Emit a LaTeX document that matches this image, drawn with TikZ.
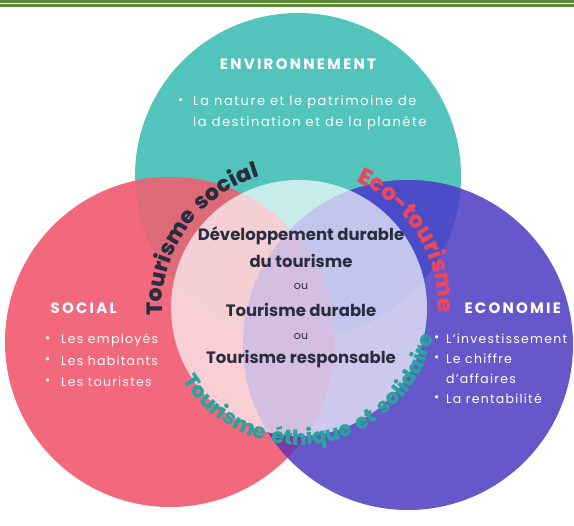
\documentclass[tikz,border=0pt]{standalone}
\usepackage{fontspec}
\setmainfont{Poppins}
\newfontfamily\heavyfont{Poppins ExtraBold}
\usepackage{xcolor}
\usetikzlibrary{decorations.text}

\definecolor{barGreen}{HTML}{5B8A37}
\definecolor{envTeal}{HTML}{52C4BC}
\definecolor{socPink}{HTML}{F2687D}
\definecolor{ecoPurple}{HTML}{6658CB}
\definecolor{envSoc}{HTML}{DE6A78}
\definecolor{envEco}{HTML}{4A4CC8}
\definecolor{socEco}{HTML}{7A3BA8}
\definecolor{inkDark}{HTML}{2A2D3E}
\definecolor{ecoRed}{HTML}{E8475E}
\definecolor{ethTeal}{HTML}{2BA39D}

\begin{document}
\begin{tikzpicture}[x=1pt,y=1pt,
  title/.style={text=white,font=\fontsize{15}{15}\selectfont\bfseries\addfontfeatures{LetterSpace=15}},
  item/.style={text=white,font=\fontsize{12.5}{12.5}\selectfont\addfontfeatures{LetterSpace=10},anchor=west,inner sep=0pt},
  envitem/.style={item,font=\fontsize{13}{13}\selectfont\addfontfeatures{LetterSpace=12}},
  mid/.style={text=inkDark,font=\fontsize{16.5}{16.5}\selectfont\bfseries,inner sep=0pt},
  midou/.style={text=inkDark,font=\fontsize{11}{11}\selectfont,inner sep=0pt}]
\useasboundingbox (0,0) rectangle (574,-526);

% bandeau du haut
\fill[barGreen] (0,0) rectangle (574,-3);
\fill[barGreen] (0,-4.5) rectangle (574,-6.8);

\coordinate (envC) at (298,-176);
\coordinate (socC) at (170,-342);
\coordinate (ecoC) at (408,-345);
\coordinate (midC) at (299,-308);

% les trois cercles
\fill[envTeal] (envC) circle[radius=163];
\fill[socPink] (socC) circle[radius=165];
\fill[ecoPurple] (ecoC) circle[radius=165];

% intersections
\begin{scope}
\clip (envC) circle[radius=163];
\fill[envSoc] (socC) circle[radius=165];
\end{scope}
\begin{scope}
\clip (envC) circle[radius=163];
\fill[envEco] (ecoC) circle[radius=165];
\end{scope}
\begin{scope}
\clip (socC) circle[radius=165];
\fill[socEco] (ecoC) circle[radius=165];
\end{scope}

% cercle central
\fill[white,opacity=0.68] (midC) circle[radius=128];

% textes des cercles
\node[title] (envT) at (298,-64) {ENVIRONNEMENT};
\node[envitem] (envB) at (178,-102) {•};
\node[envitem] (envL1) at (193,-102) {La nature et le patrimoine de};
\node[envitem] (envL2) at (193,-123) {la destination et de la planète};

\node[title,anchor=west] (socT) at (47,-308) {SOCIAL};
\node[item] (socB1) at (45,-340) {•};
\node[item] (socL1) at (61,-340) {Les employés};
\node[item] (socB2) at (45,-361) {•};
\node[item] (socL2) at (61,-361) {Les habitants};
\node[item] (socB3) at (45,-382) {•};
\node[item] (socL3) at (61,-382) {Les touristes};

\node[title,anchor=west] (ecoT) at (461,-308) {ECONOMIE};
\node[item] (ecoB1) at (434,-339) {•};
\node[item] (ecoL1) at (446,-339) {L'investissement};
\node[item] (ecoB2) at (434,-359) {•};
\node[item] (ecoL2) at (446,-359) {Le chiffre};
\node[item] (ecoL3) at (446,-379) {d'affaires};
\node[item] (ecoB3) at (434,-399) {•};
\node[item] (ecoL4) at (446,-399) {La rentabilité};

% texte central
\node[mid] (dev1) at (301,-236) {Développement durable};
\node[mid] (dev2) at (301,-261) {du tourisme};
\node[midou] (ou1) at (301,-286) {ou};
\node[mid] (durab) at (301,-310) {Tourisme durable};
\node[midou] (ou2) at (301,-336) {ou};
\node[mid] (respo) at (301,-359) {Tourisme responsable};

% textes courbes
\path[decorate,decoration={text along path,text align=center,
  text={|\heavyfont\fontsize{22}{22}\selectfont\addfontfeatures{LetterSpace=8}\color{inkDark}|Tourisme social}}]
  (midC) ++(205:137) arc[start angle=205,end angle=85,radius=137];
\path[decorate,decoration={text along path,text align=center,
  text={|\heavyfont\fontsize{23}{23}\selectfont\color{ecoRed}|Eco-tourisme}}]
  (midC) ++(92:139) arc[start angle=92,end angle=-28,radius=139];
\path[decorate,decoration={text along path,text align=center,
  text={|\heavyfont\fontsize{21}{21}\selectfont\addfontfeatures{LetterSpace=14}\color{ethTeal}|Tourisme éthique et solidaire}}]
  (midC) ++(190:137) arc[start angle=190,end angle=370,radius=137];
\end{tikzpicture}
\end{document}
